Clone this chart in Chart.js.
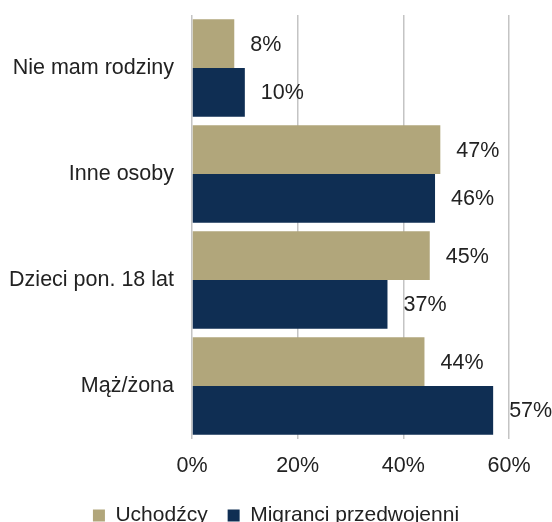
<!DOCTYPE html>
<html>
<head>
<meta charset="utf-8">
<script src="https://cdn.jsdelivr.net/npm/chart.js@4/dist/chart.umd.min.js"></script>
<style>
  html, body { margin: 0; padding: 0; background: #fff; overflow: hidden; }
  #wrap { width: 552px; height: 536px; }
</style>
</head>
<body>
<div id="wrap"><canvas id="myChart"></canvas></div>
<script>
// data
const categories = ['Nie mam rodziny', 'Inne osoby', 'Dzieci pon. 18 lat', 'Mąż/żona'];
const refugees = [8, 47, 45, 44];      // Uchodźcy
const prewarMigrants = [10, 46, 37, 57]; // Migranci przedwojenni
const xTicks = [0, 20, 40, 60];

const textColor = '#222222';
const fontFamily = '"Liberation Sans", Arial, sans-serif';

// value labels drawn to the right of each bar
const valueLabels = {
    id: 'valueLabels',
    afterDatasetsDraw(chart) {
        const ctx = chart.ctx;
        ctx.save();
        ctx.font = '21.5px ' + fontFamily;
        ctx.fillStyle = textColor;
        ctx.textAlign = 'left';
        ctx.textBaseline = 'middle';
        chart.data.datasets.forEach((ds, i) => {
            const meta = chart.getDatasetMeta(i);
            meta.data.forEach((bar, j) => {
                ctx.fillText(ds.data[j] + '%', bar.x + 16, bar.y + 1);
            });
        });
        ctx.restore();
    }
};

const ctx = document.getElementById('myChart').getContext('2d');
const myChart = new Chart(ctx, {
    type: 'bar',
    data: {
        labels: categories,
        datasets: [{
            label: 'Uchodźcy',
            data: refugees,
            backgroundColor: '#B1A67B',
            borderWidth: 0
        }, {
            label: 'Migranci przedwojenni',
            data: prewarMigrants,
            backgroundColor: '#0F2E53',
            borderWidth: 0
        }]
    },
    plugins: [valueLabels],
    options: {
        indexAxis: 'y',
        responsive: true,
        maintainAspectRatio: false,
        animation: false,
        datasets: {
            bar: { categoryPercentage: 0.92, barPercentage: 1.0 }
        },
        layout: { padding: { top: 15, right: 0, left: 0, bottom: 0 } },
        scales: {
            x: {
                min: 0,
                max: 60,
                afterBuildTicks: (scale) => { scale.ticks = xTicks.map(v => ({ value: v })); },
                afterFit: (scale) => {
                    scale.height = 46;
                    scale.paddingRight = 43; // room for the value labels
                },
                ticks: {
                    callback: (v) => v + '%',
                    color: textColor,
                    font: { size: 21.5, family: fontFamily },
                    padding: 14,
                    maxRotation: 0
                },
                grid: { color: '#C4C4C4', lineWidth: 1.5, drawTicks: false },
                border: { display: false }
            },
            y: {
                afterFit: (scale) => {
                    scale.width = 192;
                    scale.paddingTop = 0;
                    scale.paddingBottom = 0;
                },
                ticks: {
                    color: textColor,
                    font: { size: 21.5, family: fontFamily },
                    padding: 18
                },
                grid: { display: false, drawTicks: false },
                border: { display: false }
            }
        },
        plugins: {
            legend: {
                position: 'bottom',
                labels: {
                    boxWidth: 12,
                    boxHeight: 12,
                    color: textColor,
                    font: { size: 21, family: fontFamily },
                    padding: 20
                }
            },
            tooltip: { enabled: false }
        }
    }
});
</script>
</body>
</html>
